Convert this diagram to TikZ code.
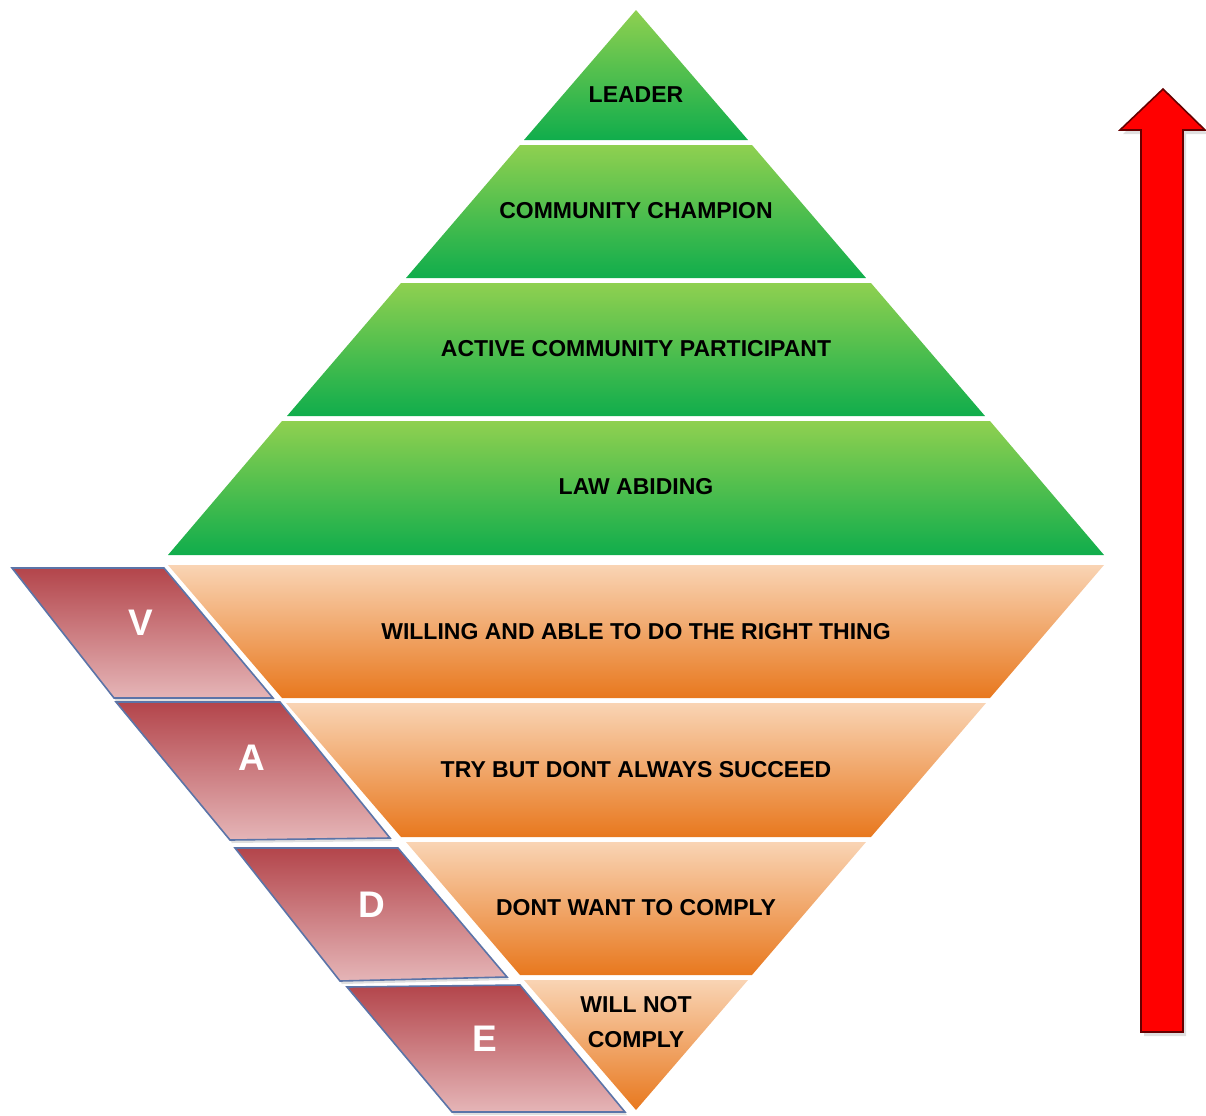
\documentclass[tikz,border=0pt]{standalone}
\usepackage{fontspec}
\setmainfont{Liberation Sans}
\usetikzlibrary{shadows}

\definecolor{grtop}{HTML}{8FD050}
\definecolor{grbot}{HTML}{10AD4C}
\definecolor{ortop}{HTML}{F9D4B4}
\definecolor{ormid}{HTML}{F6C294}
\definecolor{orbot}{HTML}{E8781E}
\definecolor{vadtop}{HTML}{B3454B}
\definecolor{vadbot}{HTML}{E5B5B7}
\definecolor{vadline}{HTML}{5B74A8}

\tikzset{
  greenlayer/.style={top color=grtop, bottom color=grbot},
  orangelayer/.style={top color=ortop, middle color=ormid, bottom color=orbot},
  vadbox/.style={top color=vadtop, bottom color=vadbot, draw=vadline, line width=0.8pt,
    drop shadow={shadow xshift=1pt, shadow yshift=-1.5pt, opacity=0.25}},
  layertext/.style={font=\bfseries\fontsize{11.5}{17.5}\selectfont, align=center},
  vadletter/.style={font=\bfseries\fontsize{18.5}{20}\selectfont, text=white}
}

\begin{document}
\begin{tikzpicture}[x=0.5pt,y=-0.5pt]
\useasboundingbox (0,0) rectangle (1206,1115);

% Green pyramid, top to bottom
\shade[greenlayer] (636,10) -- (748,140) -- (524,140) -- cycle;
\shade[greenlayer] (520,145) -- (752,145) -- (866,278) -- (406,278) -- cycle;
\shade[greenlayer] (401,283) -- (871,283) -- (985,416) -- (287,416) -- cycle;
\shade[greenlayer] (282,421) -- (990,421) -- (1104,555) -- (168,555) -- cycle;

\node[layertext] (leader) at (636,95) {LEADER};
\node[layertext] (champion) at (636,211) {COMMUNITY CHAMPION};
\node[layertext] (participant) at (636,349) {ACTIVE COMMUNITY PARTICIPANT};
\node[layertext] (lawabiding) at (636,487) {LAW ABIDING};

% Orange upside-down pyramid
\shade[orangelayer] (168,565) -- (1104,565) -- (990,698) -- (282,698) -- cycle;
\shade[orangelayer] (286,703) -- (986,703) -- (871,837) -- (401,837) -- cycle;
\shade[orangelayer] (406,842) -- (866,842) -- (752,975) -- (520,975) -- cycle;
\shade[orangelayer] (524,980) -- (748,980) -- (636,1110) -- cycle;

\node[layertext] (willing) at (636,632) {WILLING AND ABLE TO DO THE RIGHT THING};
\node[layertext] (trying) at (636,770) {TRY BUT DONT ALWAYS SUCCEED};
\node[layertext] (unwilling) at (636,908) {DONT WANT TO COMPLY};
\node[layertext] (refusing) at (636,1022) {WILL NOT\\COMPLY};

% VADE boxes down the left side
\shade[vadbox] (12,568) -- (164,568) -- (273,698) -- (114,698) -- cycle;
\shade[vadbox] (116,702) -- (280,702) -- (390,838) -- (230,840) -- cycle;
\shade[vadbox] (235,848) -- (398,848) -- (507,977) -- (340,981) -- cycle;
\shade[vadbox] (347,987) -- (520,985) -- (625,1112) -- (452,1112) -- cycle;

\node[vadletter] (v) at (141,623) {V};
\node[vadletter] (a) at (252,758) {A};
\node[vadletter] (d) at (372,905) {D};
\node[vadletter] (e) at (485,1039) {E};

% Red arrow on the right
\draw[fill=red, draw=black!60!red, line width=0.8pt,
  drop shadow={shadow xshift=1.5pt, shadow yshift=-2pt, opacity=0.25}]
  (1163,89) -- (1205,130) -- (1183,130) -- (1183,1032)
  -- (1141,1032) -- (1141,130) -- (1120,130) -- cycle;
\end{tikzpicture}
\end{document}
